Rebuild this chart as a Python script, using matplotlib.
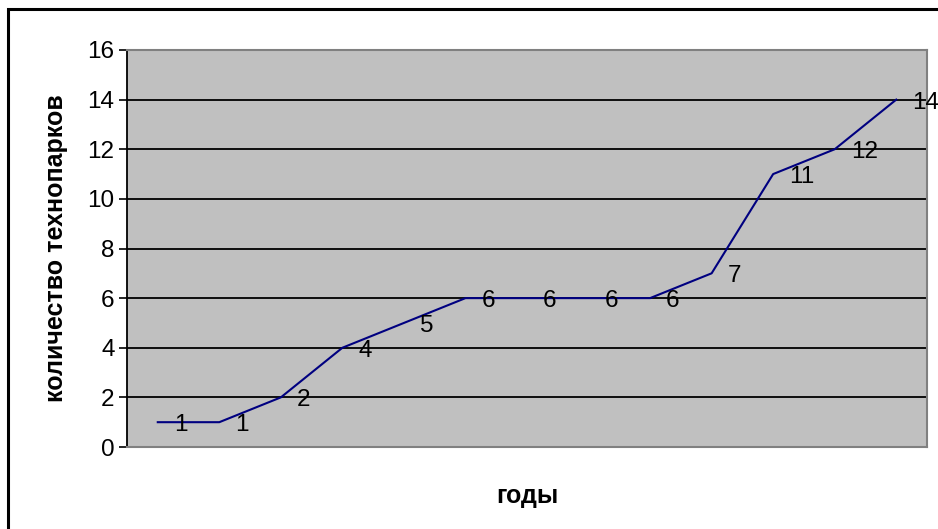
import matplotlib.pyplot as plt
from matplotlib.patches import Rectangle

plt.rcParams['font.family'] = ['Liberation Sans', 'DejaVu Sans']

counts = [1, 1, 2, 4, 5, 6, 6, 6, 6, 7, 11, 12, 14]
y_ticks = [0, 2, 4, 6, 8, 10, 12, 14, 16]

fig = plt.figure(figsize=(9.38, 5.29), dpi=100)
fig.patch.set_facecolor('white')

# outer chart frame (only the top and left edges fall inside the image)
fig.patches.append(Rectangle((8 / 938, -0.1), 1.2, 1.1 - 9 / 529,
                             transform=fig.transFigure, fill=False,
                             edgecolor='black', linewidth=2.2, zorder=0))

ax = fig.add_axes([127 / 938, 1 - 447 / 529, 800 / 938, 397 / 529])
ax.set_facecolor('#c0c0c0')

x = range(len(counts))
ax.plot(x, counts, color='#000080', linewidth=1.5, zorder=3)
for i, v in enumerate(counts):
    ax.annotate(str(v), (i, v), xytext=(16, -3), textcoords='offset pixels',
                ha='left', va='center', fontsize=17.5, color='black', zorder=4)

ax.set_xlim(-0.5, len(counts) - 0.5)
ax.set_ylim(0, 16)
ax.set_yticks(y_ticks)
ax.tick_params(axis='y', direction='out', length=6, width=1.2, labelsize=17.5,
               pad=3, color='black')
ax.set_xticks([])

for t in y_ticks[1:-1]:
    ax.axhline(t, color='black', linewidth=1.3, zorder=2)

for side in ['top', 'right', 'bottom']:
    ax.spines[side].set_color('#808080')
    ax.spines[side].set_linewidth(1.5)
ax.spines['left'].set_color('black')
ax.spines['left'].set_linewidth(1.3)

ax.set_ylabel('количество технопарков', fontsize=18, fontweight='bold',
              labelpad=14)
ax.set_xlabel('годы', fontsize=18, fontweight='bold', labelpad=27)

fig.savefig('out.png', dpi=100)
